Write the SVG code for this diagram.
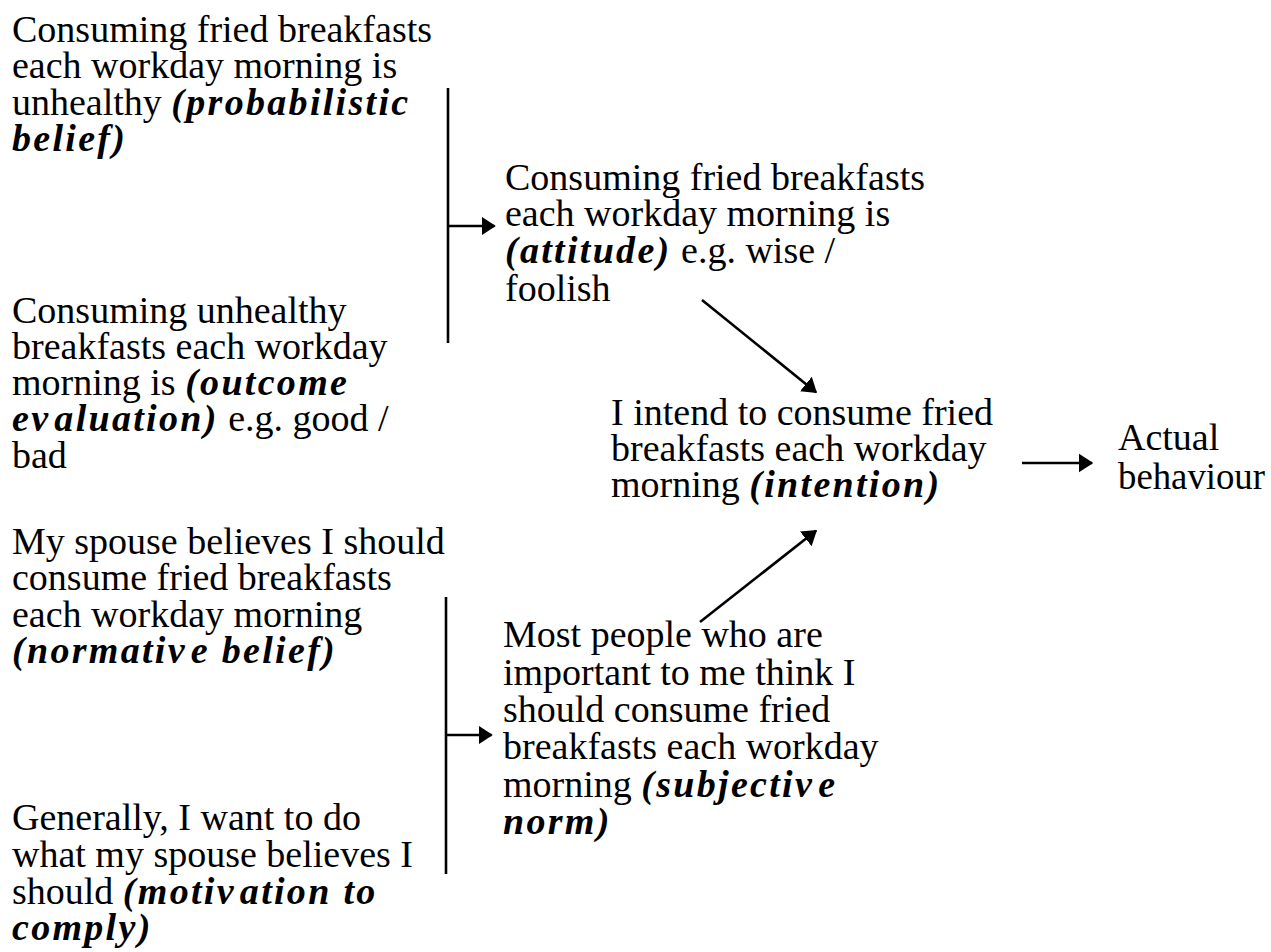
<svg xmlns="http://www.w3.org/2000/svg" width="1271" height="952" viewBox="0 0 1271 952">
<style>
text{font-family:"Liberation Serif","Times New Roman",serif;font-size:38px;fill:#000}
.em{font-weight:bold;font-style:italic;letter-spacing:2.3px}
.ln{stroke:#000;stroke-width:2.6;fill:none}
</style>
<defs>
<marker id="ah" markerWidth="8" markerHeight="8" refX="5" refY="4" orient="auto" markerUnits="strokeWidth">
<path d="M0,0.4 L5.5,4 L0,7.6 Z" fill="#000"/>
</marker>
</defs>
<rect width="1271" height="952" fill="#fff"/>
<g id="probabilistic-belief">
<text x="12" y="42">Consuming fried breakfasts</text>
<text x="12" y="78">each workday morning is</text>
<text x="12" y="115">unhealthy <tspan class="em">(probabilistic</tspan></text>
<text x="12" y="151"><tspan class="em">belief)</tspan></text>
</g>
<g id="outcome-evaluation">
<text x="12" y="323">Consuming unhealthy</text>
<text x="12" y="359">breakfasts each workday</text>
<text x="12" y="395">morning is <tspan class="em">(outcome</tspan></text>
<text x="12" y="431"><tspan class="em">ev<tspan dx="4">aluation)</tspan></tspan> e.g. good /</text>
<text x="12" y="468">bad</text>
</g>
<g id="normative-belief">
<text x="12" y="554">My spouse believes I should</text>
<text x="12" y="590">consume fried breakfasts</text>
<text x="12" y="627">each workday morning</text>
<text x="12" y="663"><tspan class="em">(normativ<tspan dx="4">e</tspan> belief)</tspan></text>
</g>
<g id="motivation-to-comply">
<text x="12" y="830">Generally, I want to do</text>
<text x="12" y="867">what my spouse believes I</text>
<text x="12" y="904">should <tspan class="em">(motiv<tspan dx="4">ation</tspan> to</tspan></text>
<text x="12" y="940"><tspan class="em">comply)</tspan></text>
</g>
<g id="attitude">
<text x="505" y="190">Consuming fried breakfasts</text>
<text x="505" y="226">each workday morning is</text>
<text x="505" y="263"><tspan class="em">(attitude)</tspan> e.g. wise /</text>
<text x="505" y="301">foolish</text>
</g>
<g id="intention">
<text x="611" y="425">I intend to consume fried</text>
<text x="611" y="461">breakfasts each workday</text>
<text x="611" y="497">morning <tspan class="em">(intention)</tspan></text>
</g>
<g id="subjective-norm">
<text x="503" y="647">Most people who are</text>
<text x="503" y="685">important to me think I</text>
<text x="503" y="722">should consume fried</text>
<text x="503" y="759">breakfasts each workday</text>
<text x="503" y="797">morning <tspan class="em">(subjectiv<tspan dx="4">e</tspan></tspan></text>
<text x="503" y="834"><tspan class="em">norm)</tspan></text>
</g>
<g id="actual-behaviour">
<text x="1118" y="450">Actual</text>
<text x="1118" y="489" textLength="147" lengthAdjust="spacingAndGlyphs">behaviour</text>
</g>
<g id="connectors">
<line class="ln" x1="448" y1="88" x2="448" y2="343"/>
<line class="ln" x1="448" y1="226" x2="494.5" y2="226" marker-end="url(#ah)"/>
<line class="ln" x1="446" y1="597" x2="446" y2="874"/>
<line class="ln" x1="446" y1="735" x2="491.5" y2="735" marker-end="url(#ah)"/>
<line class="ln" x1="702" y1="300" x2="816" y2="392.2" marker-end="url(#ah)"/>
<line class="ln" x1="700" y1="622" x2="816" y2="530.8" marker-end="url(#ah)"/>
<line class="ln" x1="1022" y1="463" x2="1092" y2="463" marker-end="url(#ah)"/>
</g>
</svg>
